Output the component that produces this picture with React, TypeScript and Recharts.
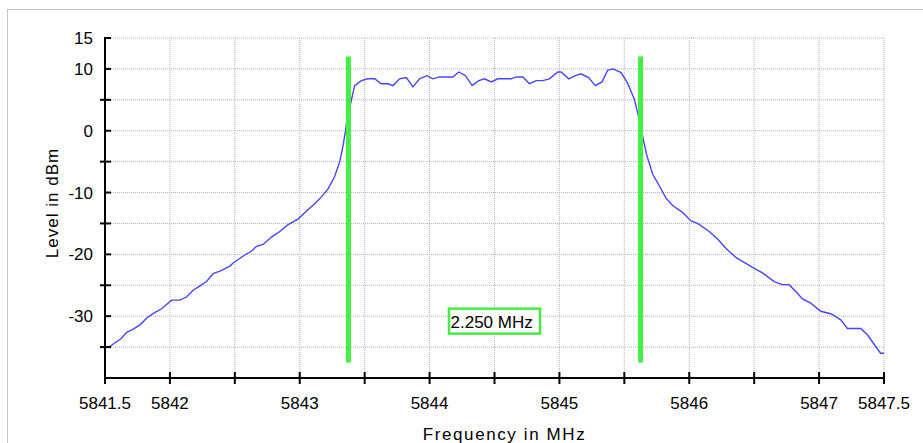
import React from 'react';
import { LineChart, Line, XAxis, YAxis, CartesianGrid, ReferenceLine, ReferenceDot } from 'recharts';

const freqMHz = [
  5841.5, 5841.538, 5841.577, 5841.621, 5841.667, 5841.718, 5841.769, 5841.833, 5841.885, 5841.936,
  5842.013, 5842.077, 5842.128, 5842.179, 5842.231, 5842.282, 5842.333, 5842.385, 5842.462, 5842.487,
  5842.577, 5842.628, 5842.667, 5842.718, 5842.782, 5842.846, 5842.91, 5842.987, 5843.052, 5843.115,
  5843.167, 5843.218, 5843.269, 5843.308, 5843.333, 5843.354, 5843.367, 5843.385, 5843.423, 5843.475,
  5843.525, 5843.577, 5843.628, 5843.679, 5843.718, 5843.769, 5843.821, 5843.872, 5843.923, 5843.979,
  5844.025, 5844.077, 5844.128, 5844.179, 5844.225, 5844.277, 5844.328, 5844.379, 5844.423, 5844.475,
  5844.525, 5844.628, 5844.667, 5844.718, 5844.769, 5844.821, 5844.872, 5844.923, 5844.987, 5845.013,
  5845.072, 5845.123, 5845.167, 5845.225, 5845.277, 5845.328, 5845.372, 5845.415, 5845.475, 5845.525,
  5845.577, 5845.615, 5845.641, 5845.672, 5845.718, 5845.769, 5845.821, 5845.872, 5845.948, 5846.013,
  5846.064, 5846.154, 5846.218, 5846.282, 5846.359, 5846.423, 5846.487, 5846.564, 5846.654, 5846.718,
  5846.769, 5846.821, 5846.872, 5846.936, 5847.013, 5847.09, 5847.167, 5847.218, 5847.321, 5847.372,
  5847.436, 5847.474, 5847.5,
];

const levelDbm = [
  -35.0, -34.9, -34.3, -33.7, -32.6, -32.1, -31.4, -30.1, -29.4, -28.8,
  -27.4, -27.4, -26.9, -25.8, -25.1, -24.4, -23.1, -22.7, -21.9, -21.4,
  -20.1, -19.5, -18.7, -18.4, -17.2, -16.3, -15.2, -14.3, -13.0, -11.8,
  -10.7, -9.4, -7.4, -5.0, -2.5, 0.2, 2.3, 3.8, 7.3, 8.1,
  8.4, 8.4, 7.6, 7.6, 7.3, 8.4, 8.6, 7.1, 8.4, 8.9,
  8.4, 8.7, 8.7, 8.7, 9.5, 8.9, 7.3, 8.1, 8.4, 7.9,
  8.4, 8.4, 8.7, 8.7, 7.6, 8.1, 8.1, 8.4, 9.5, 9.5,
  8.4, 8.9, 9.2, 8.6, 7.3, 7.9, 9.8, 10.0, 9.4, 7.7,
  5.1, 1.8, -0.9, -3.9, -7.0, -8.9, -10.9, -12.1, -13.2, -14.6,
  -15.0, -16.3, -17.5, -19.0, -20.5, -21.3, -22.1, -23.0, -24.4, -24.9,
  -24.9, -26.0, -27.2, -27.9, -29.2, -29.6, -30.6, -32.0, -32.0, -33.0,
  -34.9, -36.0, -36.0,
];

const xTicks = [5841.5, 5842, 5842.5, 5843, 5843.5, 5844, 5844.5, 5845, 5845.5, 5846, 5846.5, 5847, 5847.5];
const xTickLabels = ['5841.5', '5842', '', '5843', '', '5844', '', '5845', '', '5846', '', '5847', '5847.5'];
const yTicks = [-35, -30, -25, -20, -15, -10, -5, 0, 5, 10, 15];
const yTickLabels = ['', '-30', '', '-20', '', '-10', '', '0', '', '10', '15'];

const markerFreqs = [5843.375, 5845.625];
const markerLevelRange = [-37.5, 12.0];
const bandwidthText = '2.250 MHz';
const bandwidthLabelFreq = 5844.5;
const bandwidthLabelLevel = -30.8;

const xTitle = 'Frequency in MHz';
const yTitle = 'Level in dBm';

const FONT = '"Liberation Sans", Arial, sans-serif';
const GREEN = '#44ee44';

const data = freqMHz.map((f, i) => ({ f, v: levelDbm[i] }));

const XTick = (props: any) => {
  const { x, y, payload } = props;
  const idx = xTicks.indexOf(payload.value);
  const label = idx >= 0 ? xTickLabels[idx] : '';
  return (
    <g>
      <line x1={x} x2={x} y1={y - 6} y2={y + 6} stroke="#000" strokeWidth={2} />
      {label ? (
        <text x={x} y={y + 31} textAnchor="middle" fontFamily={FONT} fontSize={17} fill="#000">
          {label}
        </text>
      ) : null}
    </g>
  );
};

const YTick = (props: any) => {
  const { x, y, payload } = props;
  const idx = yTicks.indexOf(payload.value);
  const label = idx >= 0 ? yTickLabels[idx] : '';
  return (
    <g>
      <line x1={label ? x - 1 : x - 5} x2={x + 6} y1={y} y2={y} stroke="#000" strokeWidth={2} />
      {label ? (
        <text x={x - 12} y={y + 6} textAnchor="end" fontFamily={FONT} fontSize={17} fill="#000">
          {label}
        </text>
      ) : null}
    </g>
  );
};

const XTitle = (props: any) => {
  const vb = props.viewBox || { x: 105, y: 378, width: 779, height: 65 };
  return (
    <text
      x={vb.x + vb.width / 2 + 10}
      y={vb.y + 62}
      textAnchor="middle"
      fontFamily={FONT}
      fontSize={17}
      letterSpacing={1.6}
      fill="#000"
    >
      {xTitle}
    </text>
  );
};

const YTitle = (props: any) => {
  const vb = props.viewBox || { x: 0, y: 38, width: 105, height: 340 };
  const cx = vb.x + 58;
  const cy = vb.y + vb.height / 2 - 5;
  return (
    <text
      x={cx}
      y={cy}
      transform={`rotate(-90 ${cx} ${cy})`}
      textAnchor="middle"
      fontFamily={FONT}
      fontSize={17}
      letterSpacing={1}
      fill="#000"
    >
      {yTitle}
    </text>
  );
};

const BandwidthBox = (props: any) => {
  const { cx, cy } = props;
  if (cx == null || cy == null) return null;
  return (
    <g>
      <rect x={cx - 45.5} y={cy - 12.5} width={91} height={25} fill="#fff" stroke={GREEN} strokeWidth={2.5} />
      <text x={cx - 44} y={cy + 6.5} fontFamily={FONT} fontSize={17} fill="#000">
        {bandwidthText}
      </text>
    </g>
  );
};

export default function App() {
  return (
    <div style={{ position: 'absolute', left: 0, top: 0, width: 923, height: 443, background: '#fff', overflow: 'hidden' }}>
      <div
        style={{
          position: 'absolute',
          left: 7,
          top: 9,
          width: 916,
          height: 434,
          borderLeft: '1px solid #c4c4c4',
          borderTop: '1px solid #c4c4c4',
        }}
      />
      <div style={{ position: 'absolute', left: 0, top: 0 }}>
        <LineChart width={923} height={443} data={data} margin={{ top: 38, right: 39, left: 0, bottom: 0 }}>
          <CartesianGrid stroke="#b4b4b4" strokeDasharray="1 1" />
          <XAxis
            dataKey="f"
            type="number"
            domain={[5841.5, 5847.5]}
            ticks={xTicks}
            interval={0}
            height={65}
            tickSize={0}
            tickMargin={0}
            tickLine={false}
            axisLine={{ stroke: '#000', strokeWidth: 2 }}
            tick={<XTick />}
            label={<XTitle />}
            allowDataOverflow
          />
          <YAxis
            type="number"
            domain={[-40, 15]}
            ticks={yTicks}
            interval={0}
            width={105}
            tickSize={0}
            tickMargin={0}
            tickLine={false}
            axisLine={{ stroke: '#000', strokeWidth: 2 }}
            tick={<YTick />}
            label={<YTitle />}
            allowDataOverflow
          />
          <Line
            type="linear"
            dataKey="v"
            stroke="#4646ff"
            strokeWidth={1.4}
            dot={false}
            activeDot={false}
            isAnimationActive={false}
          />
          {markerFreqs.map((mf) => (
            <ReferenceLine
              key={mf}
              segment={[
                { x: mf, y: markerLevelRange[0] },
                { x: mf, y: markerLevelRange[1] },
              ]}
              stroke={GREEN}
              strokeWidth={5}
              ifOverflow="visible"
            />
          ))}
          <ReferenceDot
            x={bandwidthLabelFreq}
            y={bandwidthLabelLevel}
            r={1}
            ifOverflow="visible"
            shape={<BandwidthBox />}
          />
        </LineChart>
      </div>
    </div>
  );
}
